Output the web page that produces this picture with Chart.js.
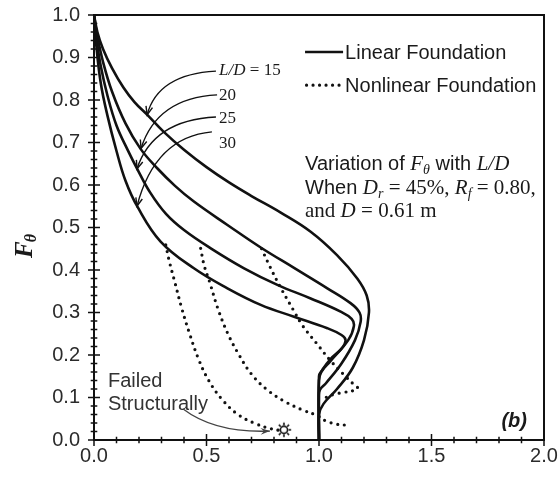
<!DOCTYPE html>
<html><head><meta charset="utf-8">
<script src="https://cdn.jsdelivr.net/npm/chart.js@4"></script>
<style>html,body{margin:0;padding:0;background:#fff}canvas{display:block}</style>
</head><body>
<canvas id="c" width="560" height="477"></canvas>
<script>
// ---------- data ----------
const xTickStep = 0.5, xMinorStep = 0.1;
const yTickStep = 0.1, yMinorStep = 0.02;
const seriesNames = ['L/D = 15', '20', '25', '30'];

const lin15X = [0, 0.015, 0.04, 0.08, 0.13, 0.18, 0.237, 0.31, 0.40, 0.5, 0.6, 0.7, 0.83, 0.963, 1.08, 1.17, 1.212, 1.222, 1.2, 1.15, 1.08, 1.02, 1.0, 1.0];
const lin15Y = [1, 0.96, 0.92, 0.875, 0.83, 0.795, 0.765, 0.725, 0.683, 0.642, 0.606, 0.574, 0.535, 0.49, 0.435, 0.38, 0.34, 0.30, 0.235, 0.17, 0.12, 0.085, 0.06, 0];

const lin20X = [0, 0.015, 0.04, 0.08, 0.14, 0.207, 0.28, 0.36, 0.444, 0.593, 0.741, 0.889, 1.037, 1.14, 1.18, 1.185, 1.16, 1.1, 1.03, 1.004, 1.0, 1.0];
const lin20Y = [1, 0.95, 0.89, 0.82, 0.745, 0.685, 0.64, 0.598, 0.561, 0.506, 0.453, 0.405, 0.357, 0.322, 0.30, 0.278, 0.235, 0.18, 0.133, 0.118, 0.1, 0];

const lin25X = [0, 0.012, 0.03, 0.06, 0.1, 0.15, 0.193, 0.25, 0.32, 0.4, 0.519, 0.667, 0.815, 0.963, 1.096, 1.145, 1.155, 1.13, 1.05, 1.01, 1.0, 1.0];
const lin25Y = [1, 0.94, 0.88, 0.81, 0.74, 0.682, 0.637, 0.582, 0.532, 0.494, 0.451, 0.404, 0.365, 0.333, 0.302, 0.285, 0.268, 0.235, 0.185, 0.16, 0.14, 0];

const lin30X = [0, 0.01, 0.03, 0.059, 0.1, 0.14, 0.193, 0.296, 0.444, 0.593, 0.741, 0.889, 1.037, 1.1, 1.118, 1.1, 1.05, 1.015, 1.0, 1.0];
const lin30Y = [1, 0.93, 0.84, 0.765, 0.68, 0.61, 0.549, 0.467, 0.404, 0.357, 0.318, 0.29, 0.263, 0.247, 0.235, 0.215, 0.19, 0.165, 0.15, 0];

const non30X = [0.319, 0.335, 0.36, 0.39, 0.425, 0.465, 0.51, 0.57, 0.64, 0.72, 0.79, 0.83];
const non30Y = [0.459, 0.42, 0.37, 0.31, 0.25, 0.19, 0.14, 0.095, 0.06, 0.038, 0.026, 0.022];

const non25X = [0.474, 0.49, 0.515, 0.55, 0.595, 0.645, 0.70, 0.77, 0.85, 0.93, 0.99, 1.03, 1.08, 1.12];
const non25Y = [0.451, 0.41, 0.37, 0.31, 0.25, 0.2, 0.155, 0.118, 0.09, 0.07, 0.058, 0.045, 0.037, 0.035];

const non20X = [0.745, 0.78, 0.827, 0.886, 0.93, 0.99, 1.049, 1.108, 1.15, 1.172, 1.15, 1.11, 1.07, 1.03, 1.01];
const non20Y = [0.45, 0.41, 0.361, 0.306, 0.267, 0.227, 0.188, 0.155, 0.133, 0.122, 0.116, 0.112, 0.108, 0.1, 0.094];

const failedX = [0.844];
const failedY = [0.024];

// ---------- helpers ----------
const pts = (xs, ys) => xs.map((v, i) => ({x: v, y: ys[i]}));
const SANS = "'Liberation Sans', Arial, sans-serif";
const SERIF = "'Liberation Serif', 'Times New Roman', serif";

const sun = document.createElement('canvas');
sun.width = 18; sun.height = 18;
(function(){
  const g = sun.getContext('2d');
  g.strokeStyle = '#111'; g.lineWidth = 1.6;
  g.beginPath(); g.arc(9, 9, 3.6, 0, Math.PI * 2); g.stroke();
  for (let k = 0; k < 8; k++) {
    const a = k * Math.PI / 4;
    g.beginPath();
    g.moveTo(9 + Math.cos(a) * 4.6, 9 + Math.sin(a) * 4.6);
    g.lineTo(9 + Math.cos(a) * 7.2, 9 + Math.sin(a) * 7.2);
    g.stroke();
  }
})();

const solid = (xs, ys) => ({data: pts(xs, ys), showLine: true, borderColor: '#111', borderWidth: 2.6,
  pointRadius: 0, tension: 0.4, fill: false});
const dotted = (xs, ys) => ({data: pts(xs, ys), showLine: true, borderColor: '#111', borderWidth: 3.2,
  borderDash: [0, 6.8], borderCapStyle: 'round', pointRadius: 0, tension: 0.4, fill: false});

const curveLabelPos = [[0.556, 0.859], [0.556, 0.800], [0.556, 0.746], [0.556, 0.687]];
const arrowPaths = [
  [[0.542, 0.868], [0.284, 0.861], [0.236, 0.765]],
  [[0.547, 0.812], [0.280, 0.805], [0.209, 0.686]],
  [[0.542, 0.760], [0.262, 0.753], [0.191, 0.638]],
  [[0.524, 0.725], [0.271, 0.713], [0.191, 0.550]]
];

function runs(ctx, x, y, list) {
  let cx = x;
  for (const r of list) {
    ctx.font = r.f;
    ctx.fillText(r.t, cx, y + (r.dy || 0));
    cx += ctx.measureText(r.t).width;
  }
}
function arrowHead(ctx, tx, ty, fx, fy, len, ang) {
  const a = Math.atan2(ty - fy, tx - fx);
  ctx.beginPath();
  ctx.moveTo(tx - len * Math.cos(a - ang), ty - len * Math.sin(a - ang));
  ctx.lineTo(tx, ty);
  ctx.lineTo(tx - len * Math.cos(a + ang), ty - len * Math.sin(a + ang));
  ctx.stroke();
}

const decor = {
  id: 'decor',
  beforeDatasetsDraw(chart) {
    const {ctx, chartArea: a, scales: {x, y}} = chart;
    ctx.save();
    ctx.strokeStyle = '#111';
    ctx.lineWidth = 1.5;
    ctx.beginPath();
    const ny = Math.round(1 / yMinorStep);
    for (let i = 0; i <= ny; i++) {
      const py = y.getPixelForValue(i * yMinorStep);
      const L = (i % Math.round(yTickStep / yMinorStep) === 0) ? 6 : 3.3;
      ctx.moveTo(a.left - L, py); ctx.lineTo(a.left + L, py);
    }
    const nx = Math.round(2 / xMinorStep);
    for (let i = 0; i <= nx; i++) {
      const px = x.getPixelForValue(i * xMinorStep);
      const L = (i % Math.round(xTickStep / xMinorStep) === 0) ? 6 : 3.3;
      ctx.moveTo(px, a.bottom - L); ctx.lineTo(px, a.bottom + L);
    }
    ctx.stroke();
    ctx.lineWidth = 2;
    ctx.beginPath();
    ctx.moveTo(a.left, a.top); ctx.lineTo(a.right, a.top); ctx.lineTo(a.right, a.bottom);
    ctx.stroke();
    ctx.restore();
  },
  afterDatasetsDraw(chart) {
    const {ctx, chartArea: a, scales: {x, y}} = chart;
    const P = (u, v) => [x.getPixelForValue(u), y.getPixelForValue(v)];
    ctx.save();
    ctx.fillStyle = '#1a1a1a';
    ctx.strokeStyle = '#111';
    ctx.textBaseline = 'alphabetic';
    ctx.textAlign = 'left';

    let [lx1, ly1] = P(0.938, 0.913), [lx2] = P(1.107, 0);
    ctx.lineWidth = 2.6;
    ctx.beginPath(); ctx.moveTo(lx1, ly1); ctx.lineTo(lx2, ly1); ctx.stroke();
    const [, ly2] = P(0, 0.835);
    ctx.setLineDash([0, 6.5]); ctx.lineCap = 'round'; ctx.lineWidth = 3.2;
    ctx.beginPath(); ctx.moveTo(lx1 + 1.5, ly2); ctx.lineTo(lx2, ly2); ctx.stroke();
    ctx.setLineDash([]); ctx.lineCap = 'butt';
    ctx.font = '20px ' + SANS;
    const [tx] = P(1.116, 0);
    ctx.fillText('Linear Foundation', tx, P(0, 0.897)[1]);
    ctx.fillText('Nonlinear Foundation', tx, P(0, 0.820)[1]);

    const [cx0] = P(0.938, 0);
    const A20 = '20px ' + SANS, T21 = '21px ' + SERIF, TI21 = 'italic 21px ' + SERIF, TI14 = 'italic 14px ' + SERIF;
    runs(ctx, cx0, P(0, 0.635)[1], [
      {t: 'Variation of ', f: A20}, {t: 'F', f: TI21}, {t: '\u03B8', f: TI14, dy: 4},
      {t: ' with ', f: A20}, {t: 'L/D', f: TI21}]);
    runs(ctx, cx0, P(0, 0.579)[1], [
      {t: 'When ', f: A20}, {t: 'D', f: TI21}, {t: 'r', f: TI14, dy: 4}, {t: ' = 45%, ', f: T21},
      {t: 'R', f: TI21}, {t: 'f', f: TI14, dy: 4}, {t: ' = 0.80,', f: T21}]);
    runs(ctx, cx0, P(0, 0.525)[1], [
      {t: 'and ', f: T21}, {t: 'D', f: TI21}, {t: ' = 0.61 m', f: T21}]);

    curveLabelPos.forEach((p, i) => {
      const [px, py] = P(p[0], p[1]);
      if (i === 0) {
        runs(ctx, px, py, [{t: 'L/D', f: 'italic 17px ' + SERIF}, {t: ' = 15', f: '17px ' + SERIF}]);
      } else {
        ctx.font = '17px ' + SERIF; ctx.fillText(seriesNames[i], px, py);
      }
    });
    ctx.lineWidth = 1.4;
    arrowPaths.forEach(ap => {
      const [s, c, t] = ap.map(q => P(q[0], q[1]));
      ctx.beginPath(); ctx.moveTo(s[0], s[1]); ctx.quadraticCurveTo(c[0], c[1], t[0], t[1]); ctx.stroke();
      arrowHead(ctx, t[0], t[1], c[0], c[1], 9, 0.38);
    });

    ctx.fillStyle = '#333';
    ctx.font = '20px ' + SANS;
    const [fx] = P(0.062, 0);
    ctx.fillText('Failed', fx, P(0, 0.125)[1]);
    ctx.fillText('Structurally', fx, P(0, 0.071)[1]);
    ctx.strokeStyle = '#444'; ctx.lineWidth = 1.3;
    const s = P(0.396, 0.073), c = P(0.538, 0.016), t = P(0.782, 0.021);
    ctx.beginPath(); ctx.moveTo(s[0], s[1]); ctx.quadraticCurveTo(c[0], c[1], t[0], t[1]); ctx.stroke();
    ctx.fillStyle = '#444';
    const ang = Math.atan2(t[1] - c[1], t[0] - c[0]);
    ctx.beginPath();
    ctx.moveTo(t[0], t[1]);
    ctx.lineTo(t[0] - 10 * Math.cos(ang - 0.35), t[1] - 10 * Math.sin(ang - 0.35));
    ctx.lineTo(t[0] - 6 * Math.cos(ang), t[1] - 6 * Math.sin(ang));
    ctx.lineTo(t[0] - 10 * Math.cos(ang + 0.35), t[1] - 10 * Math.sin(ang + 0.35));
    ctx.closePath(); ctx.fill();

    ctx.fillStyle = '#1a1a1a';
    ctx.font = 'bold italic 20px ' + SANS;
    ctx.textAlign = 'right';
    ctx.fillText('(b)', a.right - 17, a.bottom - 13);

    ctx.textAlign = 'left';
    ctx.translate(32, 258);
    ctx.rotate(-Math.PI / 2);
    ctx.font = 'bold italic 25px ' + SERIF;
    ctx.fillText('F', 0, 0);
    const fw = ctx.measureText('F').width;
    ctx.font = 'bold italic 16px ' + SERIF;
    ctx.fillText('\u03B8', fw - 1, 4);
    ctx.restore();
  }
};

const zeroPad = s => { s.paddingTop = 0; s.paddingBottom = 0; s.paddingLeft = 0; s.paddingRight = 0; };

new Chart(document.getElementById('c'), {
  type: 'scatter',
  data: {
    datasets: [
      solid(lin15X, lin15Y), solid(lin20X, lin20Y), solid(lin25X, lin25Y), solid(lin30X, lin30Y),
      dotted(non30X, non30Y), dotted(non25X, non25Y), dotted(non20X, non20Y),
      {data: pts(failedX, failedY), showLine: false, pointStyle: sun, pointRadius: 7}
    ]
  },
  options: {
    responsive: false,
    animation: false,
    events: [],
    layout: {padding: {top: 15, right: 16, left: 0, bottom: 0}},
    plugins: {legend: {display: false}, tooltip: {enabled: false}, title: {display: false}},
    scales: {
      x: {
        type: 'linear', min: 0, max: 2,
        ticks: {stepSize: xTickStep, padding: 4, color: '#2b2b2b', font: {family: SANS, size: 20},
          callback: v => Number(v).toFixed(1)},
        grid: {display: false, drawTicks: false},
        border: {display: true, color: '#111', width: 2},
        afterFit: s => { s.height = 37; zeroPad(s); }
      },
      y: {
        type: 'linear', min: 0, max: 1,
        ticks: {stepSize: yTickStep, padding: 14, color: '#2b2b2b', font: {family: SANS, size: 20},
          callback: v => Number(v).toFixed(1)},
        grid: {display: false, drawTicks: false},
        border: {display: true, color: '#111', width: 2},
        afterFit: s => { s.width = 94; zeroPad(s); }
      }
    }
  },
  plugins: [decor]
});
</script>
</body></html>
